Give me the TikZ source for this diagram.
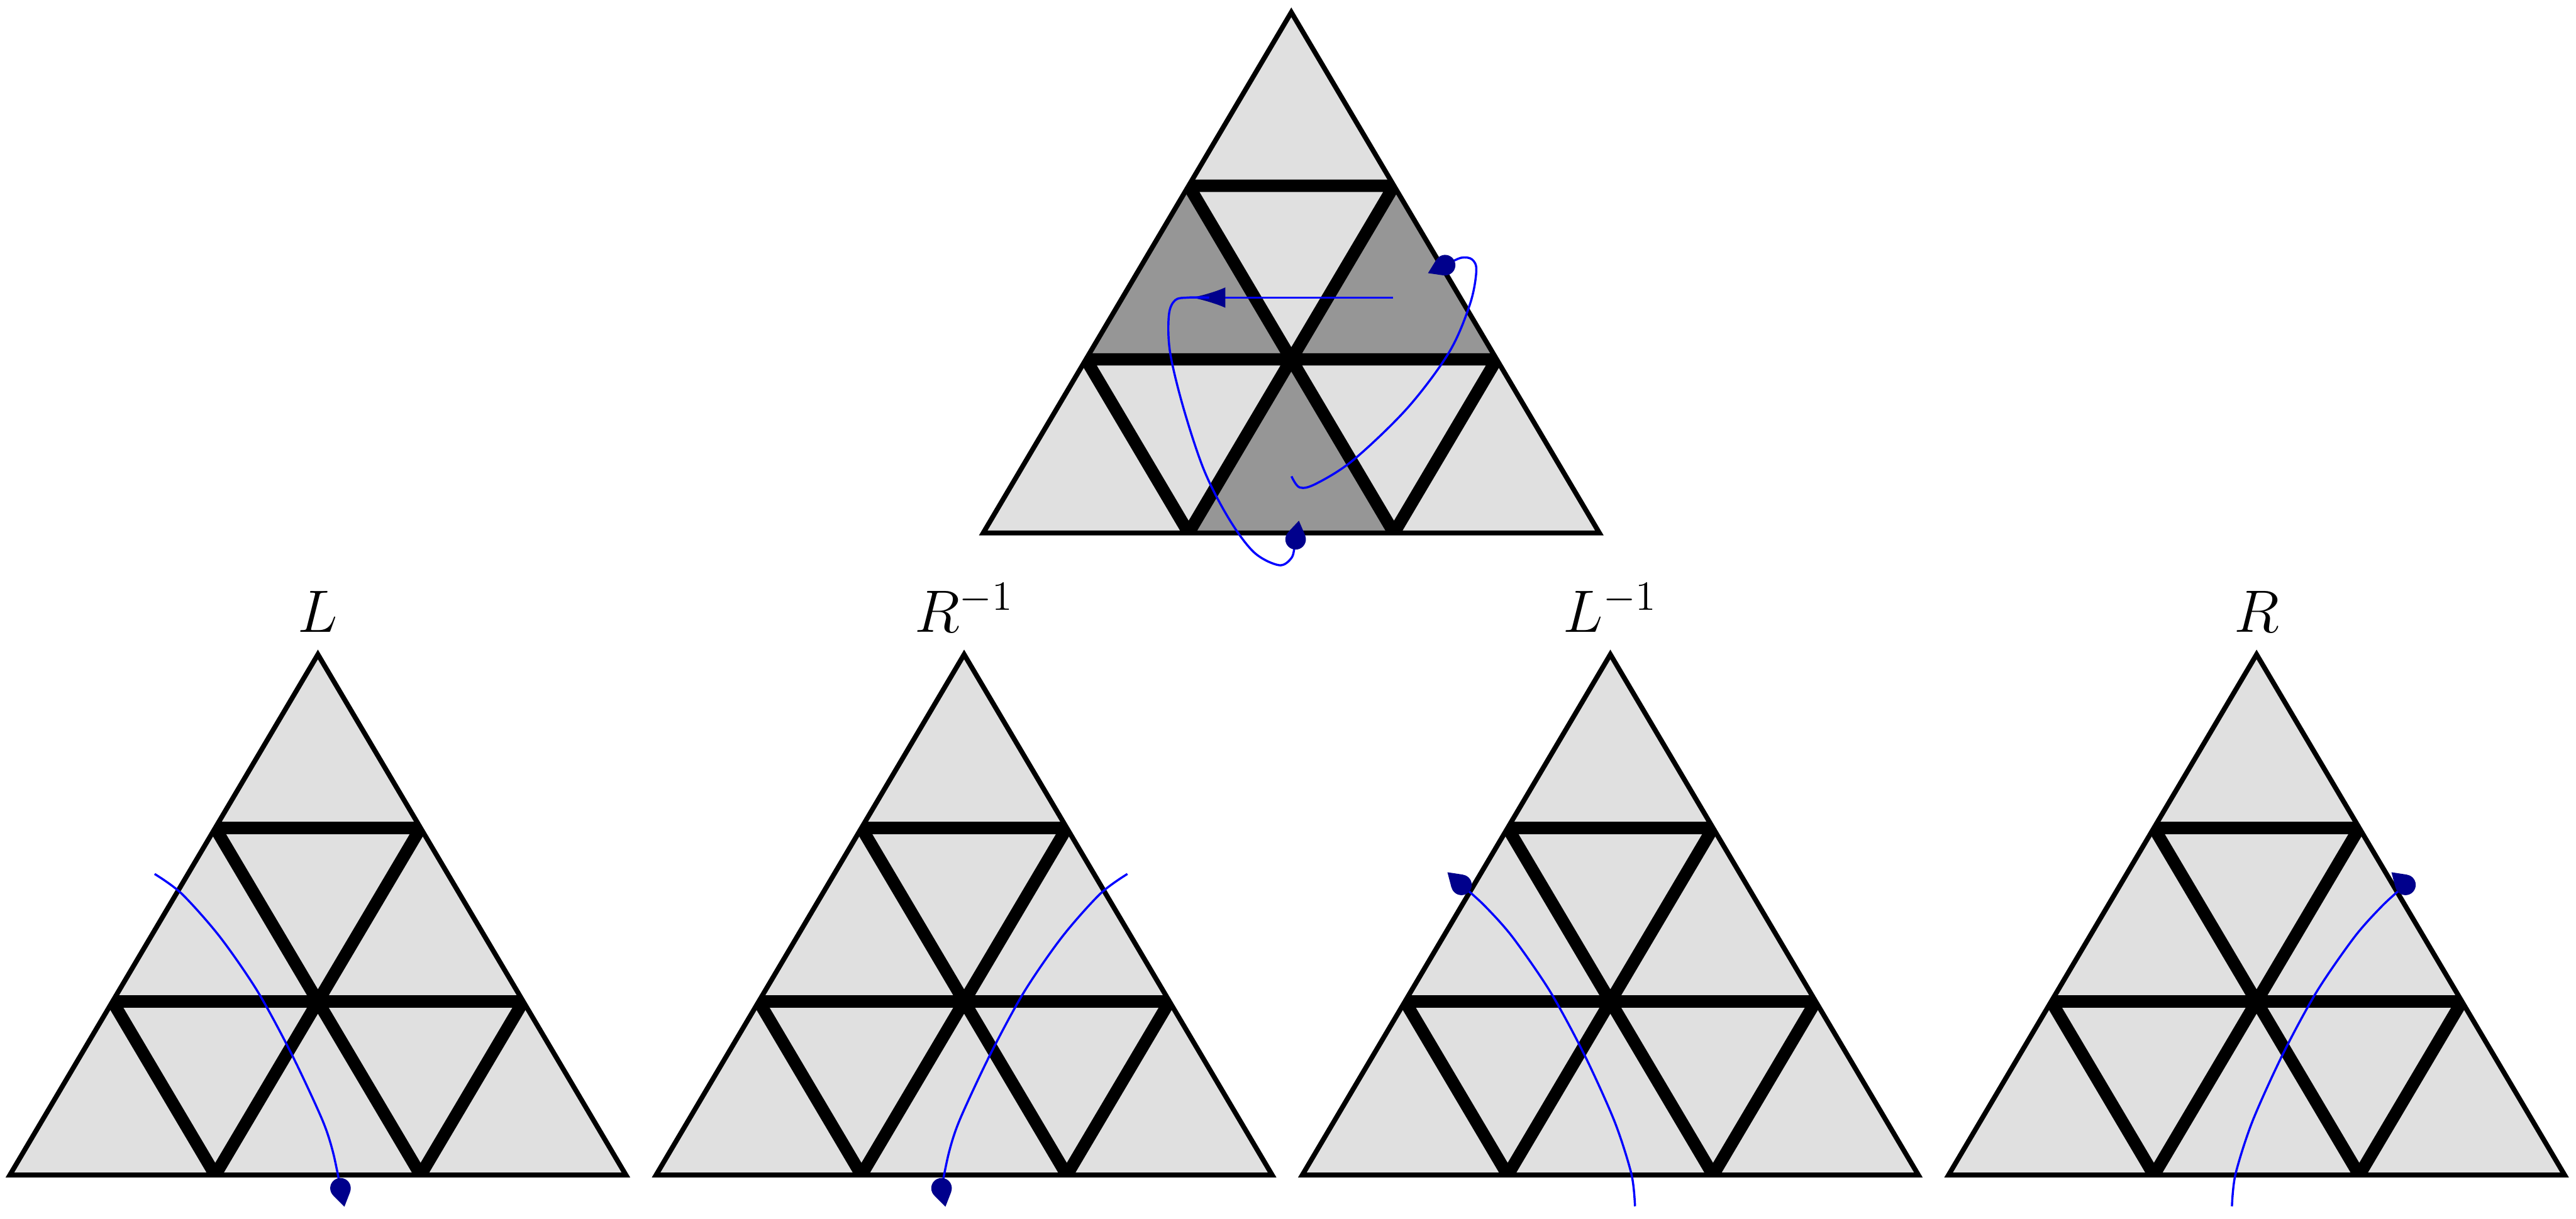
\documentclass[tikz,border=0pt]{standalone}
\usepackage{amsmath,amssymb}
\usepackage{tikz}
\usetikzlibrary{arrows.meta}
\usetikzlibrary{decorations.markings}

\begin{document}
\begin{tikzpicture}[
    rim/.style={line width=1.7pt, line join=miter},
    wall/.style={line width=4.3pt},
    cell/.style={fill=black!12},
    darkcell/.style={fill=black!41},
    curve/.style={draw=blue, line width=0.75pt},
    flow/.style={
      postaction={
        decorate,
        decoration={
          markings,
          mark=at position 0.98 with {\arrow{Latex[length=0.41cm, width=0.25cm, color=blue!55!black]}}
        }
      }
    },
    tri/.style={shift={(#1)}, x=1.25cm, y=2.1133cm},
    drop/.pic={
      \fill[blue!55!black] (0,0) circle (0.125cm) (0.23cm,0) -- (0.07cm,0.105cm) -- (0.07cm,-0.105cm) -- cycle;
    },
    trigrid/.pic={
      \begin{scope}
        \clip (0,0) -- (6,0) -- (3,3) -- cycle;
        \draw[wall] (1,1) -- (5,1) (2,2) -- (4,2)
                    (1,1) -- (2,0) (2,2) -- (4,0)
                    (4,2) -- (2,0) (5,1) -- (4,0);
      \end{scope}
      \draw[rim] (0,0) -- (6,0) -- (3,3) -- cycle;
    }
  ]

  \useasboundingbox (0,0) rectangle (31.36,14.84);

  % top triangle with the loop
  \begin{scope}[tri={11.97cm,8.35cm}]
    \fill[cell] (0,0) -- (6,0) -- (3,3) -- cycle;
    \fill[darkcell] (1,1) -- (3,1) -- (2,2) -- cycle
                    (3,1) -- (5,1) -- (4,2) -- cycle
                    (2,0) -- (4,0) -- (3,1) -- cycle;
    \pic {trigrid};
    \draw[curve, flow] (3.992,1.356) coordinate (a0) -- (1.99,1.356) coordinate (a1);
    \draw[curve] plot[smooth, tension=0.55] coordinates {(2.2,1.356) (1.99,1.356) (1.869,1.341) (1.808,1.256) (1.819,1.042) (1.949,0.721) (2.152,0.359) (2.394,0.080) (2.637,-0.112) (2.880,-0.186) (3.002,-0.144) (3.034,-0.069) (3.042,-0.037)} coordinate (a2);
    \draw[curve] plot[smooth, tension=0.55] coordinates {(3.002,0.326) (3.082,0.262) (3.243,0.284) (3.608,0.422) (4.133,0.721) (4.538,1.042) (4.741,1.320) (4.802,1.511) (4.760,1.576) (4.659,1.586) (4.538,1.555) (4.498,1.543)} coordinate (b2);
    \pic[rotate=80] at (a2) {drop};
    \pic[rotate=205] at (b2) {drop};
  \end{scope}

  % bottom row
  \foreach \i/\lab in {0/L, 1/R^{-1}, 2/L^{-1}, 3/R}{
    \begin{scope}[tri={0.12cm+7.867cm*\i,0.53cm}]
      \fill[cell] (0,0) -- (6,0) -- (3,3) -- cycle;
      \pic {trigrid};
      \node[anchor=base, font=\huge] (lab\i) at (3,3.13) {$\lab$};
    \end{scope}
  }

  \begin{scope}[tri={0.12cm,0.53cm}]
    \draw[curve] plot[smooth] coordinates {(1.41,1.735) (1.674,1.621) (2.045,1.373) (2.414,1.057) (2.744,0.697) (3.04,0.322) (3.147,0.132) (3.22,-0.076)} coordinate (l1);
    \pic[rotate=-78] at (l1) {drop};
  \end{scope}
  \begin{scope}[tri={7.987cm,0.53cm}, xscale=-1, xshift=-7.5cm]
    \draw[curve] plot[smooth] coordinates {(1.41,1.735) (1.674,1.621) (2.045,1.373) (2.414,1.057) (2.744,0.697) (3.04,0.322) (3.147,0.132) (3.22,-0.076)} coordinate (r1);
    \pic[rotate=-78] at (r1) {drop};
  \end{scope}
  \begin{scope}[tri={15.854cm,0.53cm}]
    \draw[curve] plot[smooth] coordinates {(3.24,-0.18) (3.205,0.006) (3.04,0.31) (2.744,0.697) (2.414,1.057) (2.045,1.373) (1.77,1.555) (1.55,1.672)} coordinate (l2);
    \pic[rotate=138] at (l2) {drop};
  \end{scope}
  \begin{scope}[tri={23.721cm,0.53cm}, xscale=-1, xshift=-7.5cm]
    \draw[curve] plot[smooth] coordinates {(3.24,-0.18) (3.205,0.006) (3.04,0.31) (2.744,0.697) (2.414,1.057) (2.045,1.373) (1.77,1.555) (1.55,1.672)} coordinate (r2);
    \pic[rotate=138] at (r2) {drop};
  \end{scope}

\end{tikzpicture}
\end{document}
